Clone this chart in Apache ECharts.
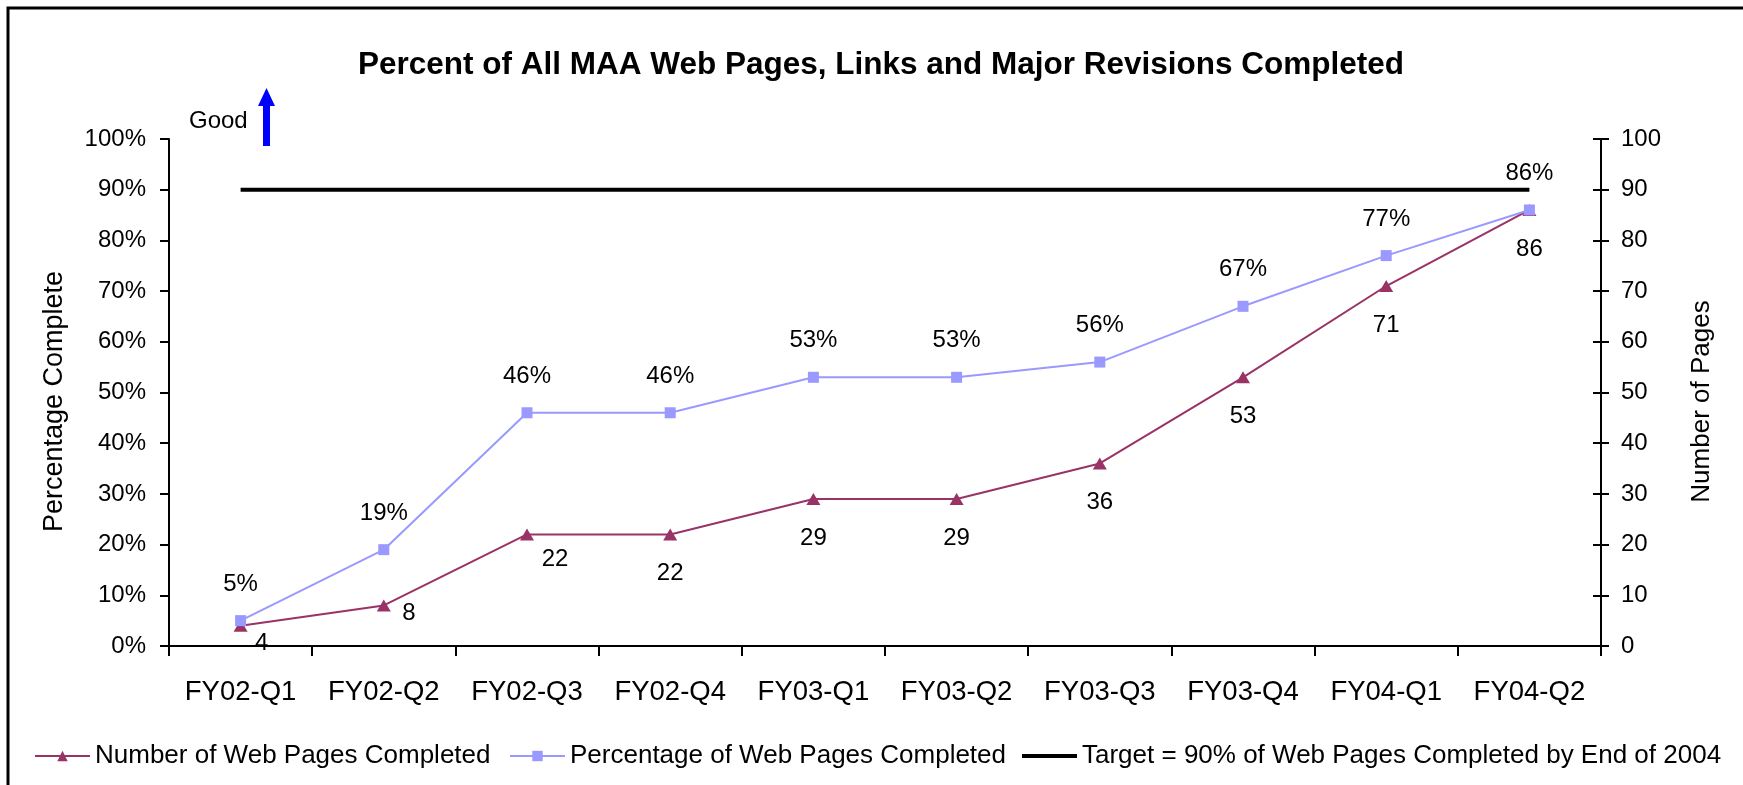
<!DOCTYPE html>
<html>
<head>
<meta charset="utf-8">
<script src="https://cdn.jsdelivr.net/npm/echarts@6/dist/echarts.min.js"></script>
<style>
  html, body { margin: 0; padding: 0; background: #fff; }
  #chart { width: 1743px; height: 785px; }
</style>
</head>
<body>
<div id="chart"></div>
<script>
// quarters on the x axis
const quarters = ['FY02-Q1', 'FY02-Q2', 'FY02-Q3', 'FY02-Q4', 'FY03-Q1', 'FY03-Q2', 'FY03-Q3', 'FY03-Q4', 'FY04-Q1', 'FY04-Q2'];
// number of pages done (right axis)
const pagesDone = [4, 8, 22, 22, 29, 29, 36, 53, 71, 86];
// percent done (left axis)
const pctDone = [5, 19, 46, 46, 53, 53, 56, 67, 77, 86];
// target line, 90%
const target = [90, 90, 90, 90, 90, 90, 90, 90, 90, 90];

const FONT = 'Liberation Sans, Arial, sans-serif';

const chart = echarts.init(document.getElementById('chart'));

// first three number labels were dragged off their default spot in the original
const numLabelShift = [[21, -21], [25, -31], [28, -14]];

const legendText = { fontFamily: FONT, fontSize: 26, color: '#000' };

const option = {
  backgroundColor: '#fff',
  animation: false,
  title: {
    text: 'Percent of All MAA Web Pages, Links and Major Revisions Completed',
    left: 876,
    textAlign: 'center',
    top: 44,
    textStyle: { fontFamily: FONT, fontSize: 31.5, fontWeight: 'bold', color: '#000' }
  },
  graphic: [
    {
      // frame, only left and top edges are inside the picture
      type: 'rect',
      shape: { x: 8, y: 8, width: 2000, height: 2000 },
      style: { fill: 'none', stroke: '#000', lineWidth: 3 },
      silent: true
    },
    {
      type: 'text',
      left: 189, top: 109,
      style: { text: 'Good', font: '24px ' + FONT, fill: '#000' }
    },
    {
      type: 'polygon',
      shape: { points: [[266.5, 88], [258, 106], [263, 106], [263, 146], [270, 146], [270, 106], [275, 106]] },
      style: { fill: '#0000ff' }
    }
  ],
  grid: { left: 169, right: 142, top: 139, bottom: 139 },
  legend: [
    {
      data: ['Number of Web Pages Completed'],
      left: 29, top: 738, itemWidth: 55, itemHeight: 13,
      textStyle: legendText
    },
    {
      data: ['Percentage of Web Pages Completed'],
      left: 504, top: 738, itemWidth: 55, itemHeight: 13,
      textStyle: legendText
    },
    {
      data: [{ name: 'Target = 90% of Web Pages Completed by End of 2004', icon: 'rect' }],
      left: 1017, top: 738, itemWidth: 55, itemHeight: 4,
      textStyle: legendText
    }
  ],
  xAxis: {
    type: 'category',
    data: quarters,
    boundaryGap: true,
    axisLine: { lineStyle: { color: '#000', width: 2 } },
    axisTick: { show: true, interval: 0, length: 10, lineStyle: { color: '#000', width: 2 } },
    axisLabel: { interval: 0, color: '#000', fontFamily: FONT, fontSize: 27.5, margin: 32 },
    splitLine: { show: false }
  },
  yAxis: [
    {
      type: 'value',
      min: 0, max: 100, interval: 10,
      name: 'Percentage Complete',
      nameLocation: 'middle',
      nameGap: 101,
      nameRotate: 90,
      nameTextStyle: { fontFamily: FONT, fontSize: 27, color: '#000', padding: [0, 18, 0, 0] },
      axisLine: { show: true, lineStyle: { color: '#000', width: 2 } },
      axisTick: { show: true, length: 9, lineStyle: { color: '#000', width: 2 } },
      axisLabel: { color: '#000', fontFamily: FONT, fontSize: 24, margin: 23, formatter: '{value}%' },
      splitLine: { show: false }
    },
    {
      type: 'value',
      min: 0, max: 100, interval: 10,
      name: 'Number of Pages',
      nameLocation: 'middle',
      nameGap: 88,
      nameRotate: 90,
      nameTextStyle: { fontFamily: FONT, fontSize: 26, color: '#000', padding: [0, 18, 0, 0] },
      axisLine: { show: true, lineStyle: { color: '#000', width: 2 } },
      axisTick: { show: true, length: 8, lineStyle: { color: '#000', width: 2 } },
      axisLabel: { color: '#000', fontFamily: FONT, fontSize: 24, margin: 20 },
      splitLine: { show: false }
    },
    {
      // inner half of the crossing ticks on the right axis
      type: 'value',
      position: 'right',
      min: 0, max: 100, interval: 10,
      axisLine: { show: false },
      axisTick: { show: true, inside: true, length: 8, lineStyle: { color: '#000', width: 2 } },
      axisLabel: { show: false },
      splitLine: { show: false }
    }
  ],
  series: [
    {
      name: 'Number of Web Pages Completed',
      type: 'line',
      yAxisIndex: 1,
      data: pagesDone.map((v, i) => numLabelShift[i]
        ? { value: v, label: { offset: numLabelShift[i] } }
        : v),
      symbol: 'triangle',
      symbolSize: [14, 12],
      itemStyle: { color: '#993366' },
      lineStyle: { color: '#993366', width: 2 },
      label: {
        show: true, position: 'bottom', distance: 21,
        fontFamily: FONT, fontSize: 24, color: '#000'
      },
      z: 3
    },
    {
      name: 'Percentage of Web Pages Completed',
      type: 'line',
      yAxisIndex: 0,
      data: pctDone,
      symbol: 'rect',
      symbolSize: 11,
      itemStyle: { color: '#9999ff' },
      lineStyle: { color: '#9999ff', width: 2 },
      label: {
        show: true, position: 'top', distance: 19,
        fontFamily: FONT, fontSize: 24, color: '#000',
        formatter: p => p.value + '%'
      },
      z: 4
    },
    {
      name: 'Target = 90% of Web Pages Completed by End of 2004',
      type: 'line',
      yAxisIndex: 0,
      data: target,
      symbol: 'none',
      lineStyle: { color: '#000', width: 4 },
      itemStyle: { color: '#000' },
      z: 2
    }
  ]
};

chart.setOption(option);
</script>
</body>
</html>
